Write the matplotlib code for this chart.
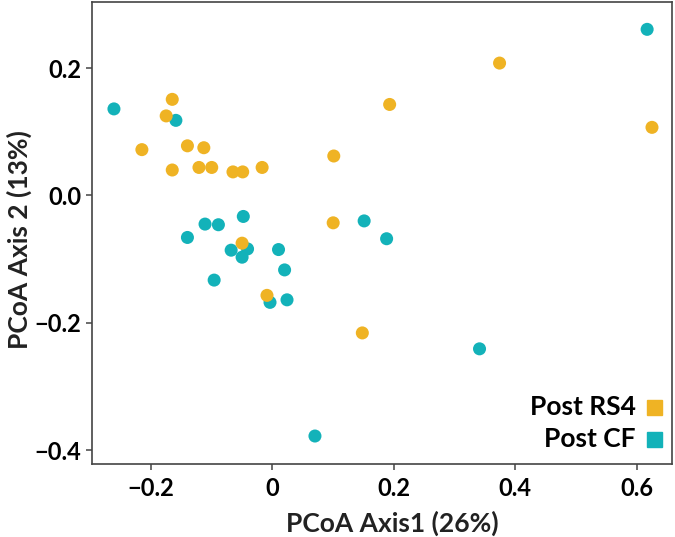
import numpy as np
import matplotlib
matplotlib.use('Agg')
import matplotlib.pyplot as plt

plt.rcParams['font.family'] = ['Lato', 'DejaVu Sans']

# PCoA coordinates
rs4_x = [-0.165, -0.175, -0.215, -0.140, -0.113, -0.165, -0.121, -0.100, -0.065, -0.049,
         -0.017, 0.101, 0.374, 0.193, 0.625, 0.100, 0.148, -0.050, -0.009]
rs4_y = [0.151, 0.125, 0.072, 0.078, 0.075, 0.040, 0.044, 0.044, 0.037, 0.037,
         0.044, 0.062, 0.208, 0.143, 0.107, -0.043, -0.216, -0.075, -0.157]
cf_x = [-0.261, -0.159, 0.617, 0.151, 0.188, 0.341, 0.070, -0.048, -0.111, -0.089,
        -0.140, -0.068, -0.041, -0.050, 0.010, 0.020, -0.096, -0.004, 0.024]
cf_y = [0.136, 0.118, 0.261, -0.040, -0.068, -0.241, -0.378, -0.033, -0.045, -0.046,
        -0.066, -0.086, -0.084, -0.097, -0.085, -0.117, -0.133, -0.168, -0.164]

x_ticks = [-0.2, 0, 0.2, 0.4, 0.6]
x_ticklabels = ['\u22120.2', '0', '0.2', '0.4', '0.6']
y_ticks = [-0.4, -0.2, 0.0, 0.2]
y_ticklabels = ['\u22120.4', '\u22120.2', '0.0', '0.2']
groups = ['Post RS4', 'Post CF']

orange = '#EFB324'
teal = '#13B2B9'

fig = plt.figure(figsize=(6.75, 5.37), dpi=100)
ax = fig.add_axes([0.1367, 0.1359, 0.8589, 0.8604])

ax.scatter(cf_x, cf_y, s=88, c=teal, edgecolors='none', zorder=2)
ax.scatter(rs4_x, rs4_y, s=88, c=orange, edgecolors='none', zorder=3)

ax.set_xlim(-0.2967, 0.658)
ax.set_ylim(-0.422, 0.304)

ax.set_xticks(x_ticks)
ax.set_xticklabels(x_ticklabels, fontsize=17, fontweight='bold')
ax.set_yticks(y_ticks)
ax.set_yticklabels(y_ticklabels, fontsize=17, fontweight='bold')
ax.tick_params(axis='both', length=4, width=1.1, color='#444444')
ax.tick_params(axis='x', pad=5)
ax.tick_params(axis='y', pad=4)

for sp in ax.spines.values():
    sp.set_color('#444444')
    sp.set_linewidth(1.2)

ax.set_xlabel('PCoA Axis1 (26%)', fontsize=19, fontweight='bold', color='#222222')
ax.xaxis.set_label_coords(0.518, -0.1)
ax.set_ylabel('PCoA Axis 2 (13%)', fontsize=19, fontweight='bold', color='#222222')
ax.yaxis.set_label_coords(-0.104, 0.485)

# legend: right-aligned labels with square keys to the right
for i, (lab, col) in enumerate(zip(groups, [orange, teal])):
    yy = 0.1236 - i * 0.0687
    ax.text(0.937, yy, lab, transform=ax.transAxes, ha='right', va='center',
            fontsize=19, fontweight='bold')
    ax.plot([0.969], [yy], marker='s', ms=10.8, color=col, transform=ax.transAxes,
            clip_on=False)

fig.savefig('out.png', dpi=100)
